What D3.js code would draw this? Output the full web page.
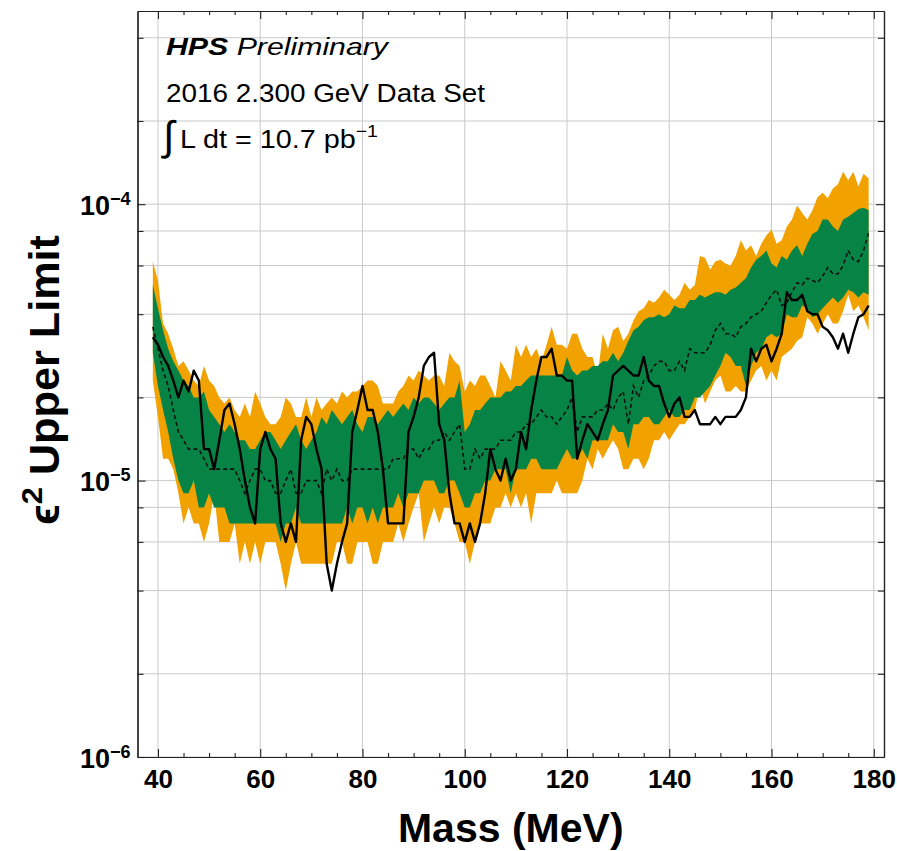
<!DOCTYPE html>
<html><head><meta charset="utf-8">
<script src="https://cdn.jsdelivr.net/npm/d3@7/dist/d3.min.js"></script>
<style>
html,body{margin:0;padding:0;background:#fff;}
svg{display:block;}
text{font-family:"Liberation Sans",Arial,sans-serif;}
</style></head>
<body><svg id="c" width="897" height="851"></svg>
<script>
// Mass points (MeV)
const mass = [39,40,41,42,43,44,45,46,47,48,49,50,51,52,53,54,55,56,57,58,59,60,61,62,63,64,65,66,67,68,
69,70,71,72,73,74,75,76,77,78,79,80,81,82,83,84,85,86,87,88,89,90,91,92,93,94,95,96,97,98,
99,100,101,102,103,104,105,106,107,108,109,110,111,112,113,114,115,116,117,118,119,120,121,122,123,124,125,126,127,128,
129,130,131,132,133,134,135,136,137,138,139,140,141,142,143,144,145,146,147,148,149,150,151,152,153,154,155,156,157,158,
159,160,161,162,163,164,165,166,167,168,169,170,171,172,173,174,175,176,177,178,179];
// all limits below in units of 1e-6
const UNIT = 1e-6;
const observed = [33,31,28,26,23,20,23,21,25,23, 13,13,11,14,18,19,16,13,10,8, 7,13,15,13,12,7,6,7,6,14,
17,16,13,11,5,4,5,6,7,15, 18,22,18,18,15,11,7,7,7,7, 15,17,20,26,28,29,16,14,9,7,
7,6,7,6,7,9,13,11,10,12, 10,11,15,13,18,23,28,28,30,24, 24,23,23,12,14,16,15,14,16,18,
24,25,26,25,24,24,28,23,22,22, 19,17,19,20,17,17,18,16,16,16, 17,16,17,17,17,18,20,30,27,30,
31,27,30,34,48,45,45,47,41,40, 40,36,35,33,30,34,29,34,39,40, 43];
const expected = [36,30,25,22,18,15,14,13,13,13, 12,11,11,11,11,11,11,10,9,10, 11,11,10,10,9,9,10,11,9,9,
10,10,10,9,11,10,11,10,10,11, 11,11,11,11,11,11,11,12,12,12, 13,13,12,13,13,14,14,15,14,15,
16,11,11,13,12,13,13,13,14,14, 14,15,15,16,16,17,18,17,17,16, 17,18,20,15,17,17,17,18,18,19,
18,20,21,16,22,20,23,24,26,27, 27,25,25,27,25,30,29,29,29,31, 35,37,34,34,33,36,37,39,40,41,
44,47,49,43,44,48,52,51,54,53, 52,55,59,56,56,60,68,63,62,68, 79];
const plus1 = [51,42,35,30,27,25,23,22,20,20, 21,18,17,16,15,16,15,14,14,13, 13,14,15,15,14,13,14,15,16,14,
13,14,15,17,16,18,17,16,17,18, 16,15,17,17,16,17,18,17,18,19, 18,20,19,20,20,19,18,19,20,20,
23,15,16,18,18,19,20,20,20,21, 21,22,22,23,24,24,24,24,24,24, 24,28,25,24,25,25,26,26,27,27,
29,27,29,32,35,36,38,39,39,40, 39,40,43,42,42,45,45,47,46,47, 48,48,47,49,50,52,54,59,63,65,
68,61,59,65,63,68,71,65,72,78, 80,88,88,83,80,88,90,93,96,97, 95];
const minus1 = [29,22,18,15,12,10,9,9,10,8, 8,9,8,8,8,7,7,7,7,7, 7,7,7,7,7,6,7,7,8,7,
7,7,7,7,7,7,7,7,8,7, 8,8,7,8,7,8,8,8,9,8, 9,9,9,10,10,10,9,9,10,10,
9,8,8,9,9,10,10,11,11,11, 9,11,11,11,12,12,11,11,11,11, 12,13,12,12,13,12,14,14,14,14,
16,15,15,13,16,16,17,17,16,16, 17,18,17,17,18,18,20,20,21,22, 24,26,29,28,26,26,22,26,29,30,
33,34,33,34,40,39,39,43,42,39, 40,42,44,46,44,46,49,48,46,48, 47];
const plus2 = [62,53,37,34,30,26,27,25,23,22, 26,23,22,20,19,20,18,17,19,17, 21,19,17,16,16,17,20,19,17,17,
20,17,20,18,19,20,19,21,20,21, 21,22,23,23,22,19,19,19,21,22, 24,23,25,24,23,24,24,22,29,27,
26,21,23,22,24,24,22,20,27,25, 23,31,28,31,28,30,27,31,36,31, 31,30,34,34,30,28,28,24,34,30,
35,36,32,34,38,41,42,45,44,46, 49,47,45,47,52,49,51,65,64,58, 62,63,61,60,65,74,68,71,65,72,
77,81,72,74,83,88,99,93,88,95, 106,110,105,114,118,131,122,131,116,129, 124];
const minus2 = [23,17,12,12,11,9,7,8,7,7, 6,7,9,6,6,6,7,5,6,5, 6,5,6,6,6,5,4,5,6,5,
5,5,5,5,5,5,6,6,5,5, 6,6,6,5,5,6,6,6,7,6, 7,8,9,6,7,8,7,8,8,7,
6,6,5,6,7,7,7,8,8,9, 8,9,8,9,7,9,9,9,9,10, 9,9,9,9,10,12,11,13,12,13,
14,13,11,11,12,12,11,12,14,14, 15,14,15,16,16,17,18,22,19,21, 23,24,21,21,22,21,21,23,25,26,
23,25,23,28,29,30,32,33,39,37, 34,37,40,37,37,41,47,41,43,39, 35];

const xMajor = [40,60,80,100,120,140,160,180];
const xMinor = [45,50,55,65,70,75,85,90,95,105,110,115,125,130,135,145,150,155,165,170,175];
const yMajor = [1e-6,1e-5,1e-4];
const yMajorExp = ["\u22126","\u22125","\u22124"];
const yMinor = [2e-6,4e-6,6e-6,8e-6,2e-5,4e-5,6e-5,8e-5,2e-4,4e-4];

(function draw(){
const L=137.5, R=884, T=11, B=757;
const svg = d3.select("#c");
svg.append("rect").attr("width",897).attr("height",851).attr("fill","#fff");
const x = d3.scaleLinear().domain([36,182]).range([L,R]);
const y = d3.scaleLog().domain([1e-6,5e-4]).range([B,T]);

const rows = mass.map((m,i)=>({m, obs:observed[i]*UNIT, exp:expected[i]*UNIT,
  p1:plus1[i]*UNIT, m1:minus1[i]*UNIT, p2:plus2[i]*UNIT, m2:minus2[i]*UNIT}));

const grid = svg.append("g").attr("stroke","#c9c9c9").attr("stroke-width",1);
grid.selectAll(".gx").data(xMajor).join("line")
  .attr("x1",d=>x(d)).attr("x2",d=>x(d)).attr("y1",T).attr("y2",B);
grid.selectAll(".gy").data(yMajor.concat(yMinor)).join("line")
  .attr("x1",L).attr("x2",R).attr("y1",d=>y(d)).attr("y2",d=>y(d));

svg.append("path").datum(rows).attr("fill","#F1A200")
  .attr("d", d3.area().x(d=>x(d.m)).y0(d=>y(d.m2)).y1(d=>y(d.p2)));
svg.append("path").datum(rows).attr("fill","#078445")
  .attr("d", d3.area().x(d=>x(d.m)).y0(d=>y(d.m1)).y1(d=>y(d.p1)));
svg.append("path").datum(rows).attr("fill","none").attr("stroke","#111")
  .attr("stroke-width",1.6).attr("stroke-dasharray","4,3")
  .attr("d", d3.line().x(d=>x(d.m)).y(d=>y(d.exp)));
svg.append("path").datum(rows).attr("fill","none").attr("stroke","#000")
  .attr("stroke-width",2.4).attr("stroke-linejoin","round")
  .attr("d", d3.line().x(d=>x(d.m)).y(d=>y(d.obs)));

function styleAxis(g){ g.selectAll("path.domain").attr("stroke","#222").attr("stroke-width",1.2);
  g.selectAll(".tick line").attr("stroke","#222").attr("stroke-width",1.1); }
const axB = svg.append("g").attr("transform",`translate(0,${B})`)
  .call(d3.axisBottom(x).tickValues(xMajor).tickSize(-8).tickSizeOuter(0).tickPadding(13));
axB.selectAll("text").attr("font-size",26).attr("font-weight","bold").attr("fill","#000")
  .attr("font-family","'Liberation Sans',Arial,sans-serif");
styleAxis(axB);
styleAxis(svg.append("g").attr("transform",`translate(0,${B})`)
  .call(d3.axisBottom(x).tickValues(xMinor).tickSize(-4).tickSizeOuter(0).tickFormat("")));
styleAxis(svg.append("g").attr("transform",`translate(0,${T})`)
  .call(d3.axisTop(x).tickValues(xMajor).tickSize(-8).tickSizeOuter(0).tickFormat("")));
styleAxis(svg.append("g").attr("transform",`translate(0,${T})`)
  .call(d3.axisTop(x).tickValues(xMinor).tickSize(-4).tickSizeOuter(0).tickFormat("")));
styleAxis(svg.append("g").attr("transform",`translate(${L},0)`)
  .call(d3.axisLeft(y).tickValues(yMajor).tickSize(-8).tickSizeOuter(0).tickFormat("")));
styleAxis(svg.append("g").attr("transform",`translate(${L},0)`)
  .call(d3.axisLeft(y).tickValues(yMinor).tickSize(-6).tickSizeOuter(0).tickFormat("")));
styleAxis(svg.append("g").attr("transform",`translate(${R},0)`)
  .call(d3.axisRight(y).tickValues(yMajor).tickSize(-8).tickSizeOuter(0).tickFormat("")));
styleAxis(svg.append("g").attr("transform",`translate(${R},0)`)
  .call(d3.axisRight(y).tickValues(yMinor).tickSize(-6).tickSizeOuter(0).tickFormat("")));

const yl = svg.append("g").attr("font-weight","bold").attr("fill","#000");
yMajor.forEach((v,i)=>{
  const t = yl.append("text").attr("x",L-7).attr("y",y(v)+10.5).attr("text-anchor","end").attr("font-size",27);
  t.append("tspan").text("10");
  t.append("tspan").attr("dy",-10).attr("font-size",18).text(yMajorExp[i]);
});

svg.append("text").attr("x",(L+R)/2).attr("y",842).attr("text-anchor","middle")
  .attr("font-size",41).attr("font-weight","bold").text("Mass (MeV)");
const yt = svg.append("text").attr("transform","translate(59,380) rotate(-90)").attr("text-anchor","middle")
  .attr("font-size",42).attr("font-weight","bold")
  .attr("textLength",290).attr("lengthAdjust","spacingAndGlyphs");
yt.append("tspan").text("\u03F5");
yt.append("tspan").attr("dy",-17).attr("font-size",30).text("2");
yt.append("tspan").attr("dy",17).text(" Upper Limit");

const a1 = svg.append("text").attr("x",166).attr("y",55).attr("font-size",24)
  .attr("textLength",222).attr("lengthAdjust","spacingAndGlyphs");
a1.append("tspan").attr("font-weight","bold").attr("font-style","italic").text("HPS");
a1.append("tspan").attr("font-style","italic").text(" Preliminary");
svg.append("text").attr("x",166).attr("y",101.5).attr("font-size",25)
  .attr("textLength",319).attr("lengthAdjust","spacingAndGlyphs").text("2016 2.300 GeV Data Set");
svg.append("text").attr("x",163).attr("y",150).attr("font-size",41).text("\u222B");
const a3 = svg.append("text").attr("x",180).attr("y",148).attr("font-size",25)
  .attr("textLength",198).attr("lengthAdjust","spacingAndGlyphs");
a3.append("tspan").text("L dt = 10.7 pb");
a3.append("tspan").attr("dy",-11).attr("font-size",17).text("\u22121");
})();
</script></body></html>
